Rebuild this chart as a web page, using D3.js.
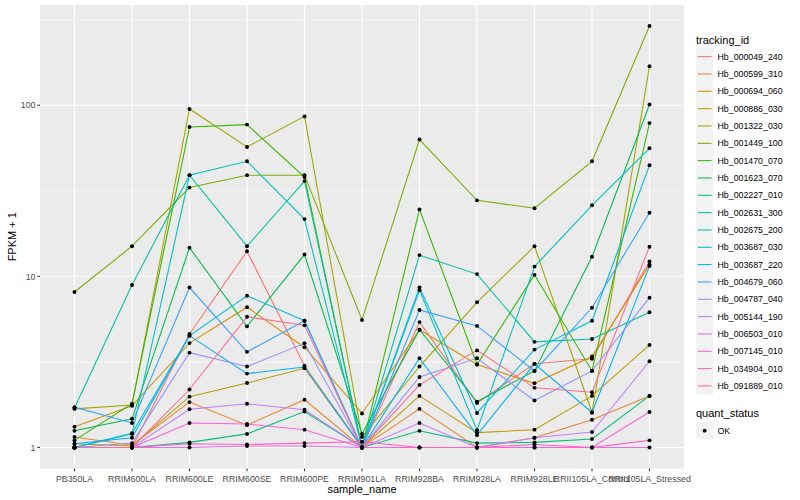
<!DOCTYPE html>
<html><head><meta charset="utf-8">
<script src="https://cdn.jsdelivr.net/npm/d3@7"></script>
<style>body{margin:0;background:#fff}svg{display:block}text{font-family:"Liberation Sans",Arial,Helvetica,sans-serif}</style>
</head><body><svg id="c" width="800" height="500"></svg>
<script>
const samples = ["PB350LA","RRIM600LA","RRIM600LE","RRIM600SE","RRIM600PE","RRIM901LA","RRIM928BA","RRIM928LA","RRIM928LE","RRII105LA_Control","RRII105LA_Stressed"];
const trackingIds = ["Hb_000049_240","Hb_000599_310","Hb_000694_060","Hb_000886_030","Hb_001322_030","Hb_001449_100","Hb_001470_070","Hb_001623_070","Hb_002227_010","Hb_002631_300","Hb_002675_200","Hb_003687_030","Hb_003687_220","Hb_004679_060","Hb_004787_040","Hb_005144_190","Hb_006503_010","Hb_007145_010","Hb_034904_010","Hb_091889_010"];
const seriesColors = ["#F8766D","#EA8331","#D89000","#C09B00","#A3A500","#7CAE00","#39B600","#00BB4E","#00BF7D","#00C1A3","#00BFC4","#00BAE0","#00B0F6","#35A2FF","#9590FF","#C77CFF","#E76BF3","#FA62DB","#FF62BC","#FF6C91"];
const yTicks = [1, 10, 100];
const yMinor = [Math.sqrt(10), Math.sqrt(1000), Math.sqrt(100000)];
// FPKM + 1 per sample
const hb_000049_240 = [1.0, 1.0, 4.6, 14, 3.0, 1.0, 5.4, 1.82, 3.08, 3.3, 12.2];
const hb_000599_310 = [1.15, 1.03, 1.84, 1.35, 1.9, 1.0, 1.68, 1.0, 1.14, 1.45, 2.0];
const hb_000694_060 = [1.32, 1.75, 4.07, 6.6, 3.85, 1.58, 4.87, 3.05, 2.37, 3.4, 11.7];
const hb_000886_030 = [1.05, 1.02, 1.98, 2.38, 2.9, 1.0, 2.0, 1.22, 1.27, 2.0, 3.97];
const hb_001322_030 = [1.68, 1.77, 95, 57, 86, 1.15, 2.97, 7.05, 15, 1.6, 169];
const hb_001449_100 = [8.1, 15, 33, 39, 39, 5.56, 63, 27.8, 25, 47, 290];
const hb_001470_070 = [1.1, 1.8, 74.5, 77, 38, 1.0, 24.6, 3.05, 10.2, 2.8, 78.6];
const hb_001623_070 = [1.25, 1.47, 14.7, 5.1, 13.4, 1.2, 4.87, 1.85, 2.8, 13.0, 101];
const hb_002227_010 = [1.0, 1.0, 1.07, 1.2, 1.62, 1.0, 1.25, 1.06, 1.07, 1.12, 2.0];
const hb_002631_300 = [1.7, 8.9, 39, 15, 36, 1.0, 13.3, 10.3, 4.14, 4.3, 6.17];
const hb_002675_200 = [1.0, 1.2, 39, 47, 21.6, 1.0, 8.3, 1.26, 11.4, 26, 56];
const hb_003687_030 = [1.0, 1.21, 4.5, 7.7, 5.5, 1.0, 8.6, 1.59, 3.73, 5.5, 44.6];
const hb_003687_220 = [1.05, 1.14, 4.5, 2.7, 2.95, 1.0, 3.32, 1.18, 3.08, 1.6, 11.5];
const hb_004679_060 = [1.72, 1.39, 8.6, 3.62, 5.5, 1.0, 6.36, 5.13, 2.8, 6.55, 23.5];
const hb_004787_040 = [1.0, 1.06, 3.58, 2.97, 4.06, 1.0, 2.58, 3.32, 1.88, 2.8, 7.5];
const hb_005144_190 = [1.0, 1.0, 1.67, 1.8, 1.66, 1.0, 1.39, 1.0, 1.14, 1.23, 3.19];
const hb_006503_010 = [1.0, 1.0, 1.0, 1.02, 1.02, 1.0, 1.0, 1.0, 1.0, 1.0, 1.0];
const hb_007145_010 = [1.0, 1.0, 1.39, 1.37, 1.27, 1.0, 1.0, 1.0, 1.0, 1.0, 1.61];
const hb_034904_010 = [1.0, 1.0, 1.05, 1.04, 1.06, 1.08, 1.0, 1.0, 1.04, 1.0, 1.1];
const hb_091889_010 = [1.0, 1.0, 2.18, 5.8, 5.17, 1.0, 2.32, 3.69, 2.23, 2.1, 14.9];
const seriesValues = [hb_000049_240,hb_000599_310,hb_000694_060,hb_000886_030,hb_001322_030,hb_001449_100,hb_001470_070,hb_001623_070,hb_002227_010,hb_002631_300,hb_002675_200,hb_003687_030,hb_003687_220,hb_004679_060,hb_004787_040,hb_005144_190,hb_006503_010,hb_007145_010,hb_034904_010,hb_091889_010];

const series = trackingIds.map((id,i)=>({id, color:seriesColors[i], pts:samples.map((s,j)=>({s, v:seriesValues[i][j]}))}));

const svg = d3.select("#c");
const P = {l:40, r:684, t:5, b:468.5};
const x = d3.scalePoint().domain(samples).range([P.l,P.r]).padding(0.6);
const allV = seriesValues.flat();
const lo = Math.log10(d3.min(allV)), hi = Math.log10(d3.max(allV));
const ex = (hi-lo)*0.05;
const y = d3.scaleLog().domain([Math.pow(10,lo-ex), Math.pow(10,hi+ex)]).range([P.b,P.t]);

svg.append("rect").attr("x",P.l).attr("y",P.t).attr("width",P.r-P.l).attr("height",P.b-P.t).attr("fill","#EBEBEB");
const g = svg.append("g");
g.selectAll(".mn").data(yMinor).join("line").attr("x1",P.l).attr("x2",P.r).attr("y1",d=>y(d)).attr("y2",d=>y(d)).attr("stroke","#fff").attr("stroke-width",0.55);
g.selectAll(".mj").data(yTicks).join("line").attr("x1",P.l).attr("x2",P.r).attr("y1",d=>y(d)).attr("y2",d=>y(d)).attr("stroke","#fff").attr("stroke-width",1.1);
g.selectAll(".mx").data(samples).join("line").attr("y1",P.t).attr("y2",P.b).attr("x1",d=>x(d)).attr("x2",d=>x(d)).attr("stroke","#fff").attr("stroke-width",1.1);

const line = d3.line().x(d=>x(d.s)).y(d=>y(d.v));
svg.append("g").selectAll("path").data(series).join("path").attr("d",d=>line(d.pts)).attr("fill","none").attr("stroke",d=>d.color).attr("stroke-width",1.07);
svg.append("g").selectAll("circle").data(series.flatMap(d=>d.pts)).join("circle")
  .attr("cx",d=>x(d.s)).attr("cy",d=>y(d.v)).attr("r",1.95).attr("fill","#000");

// axes
const ya = svg.append("g");
ya.selectAll("line").data(yTicks).join("line").attr("x1",P.l-2.7).attr("x2",P.l).attr("y1",d=>y(d)).attr("y2",d=>y(d)).attr("stroke","#333").attr("stroke-width",1.07);
ya.selectAll("text").data(yTicks).join("text").attr("x",P.l-4.5).attr("y",d=>y(d)+3.2).attr("text-anchor","end").attr("font-size",8.8).attr("fill","#4D4D4D").text(d=>d3.format("d")(d));
const xa = svg.append("g");
xa.selectAll("line").data(samples).join("line").attr("y1",P.b).attr("y2",P.b+2.7).attr("x1",d=>x(d)).attr("x2",d=>x(d)).attr("stroke","#333").attr("stroke-width",1.07);
xa.selectAll("text").data(samples).join("text").attr("x",d=>x(d)).attr("y",P.b+13.5).attr("text-anchor","middle").attr("font-size",8.8).attr("fill","#4D4D4D").text(d=>d);
svg.append("text").attr("x",(P.l+P.r)/2).attr("y",493).attr("text-anchor","middle").attr("font-size",11).attr("fill","#000").text("sample_name");
svg.append("text").attr("transform",`translate(16,${(P.t+P.b)/2}) rotate(-90)`).attr("text-anchor","middle").attr("font-size",11).attr("fill","#000").text("FPKM + 1");

// legend
const L = svg.append("g");
L.append("text").attr("x",696).attr("y",44).attr("font-size",11).attr("fill","#000").text("tracking_id");
const key0 = 48, ks = 17.33;
const items = L.selectAll("g.k").data(series).join("g").attr("transform",(d,i)=>`translate(696,${key0+i*ks})`);
items.append("rect").attr("width",17.3).attr("height",17.3).attr("fill","#F2F2F2");
items.append("line").attr("x1",1.7).attr("x2",15.6).attr("y1",8.65).attr("y2",8.65).attr("stroke",d=>d.color).attr("stroke-width",1.07);
items.append("text").attr("x",21.5).attr("y",11.8).attr("font-size",8.8).attr("fill","#000").text(d=>d.id);
L.append("text").attr("x",696).attr("y",417).attr("font-size",11).attr("fill","#000").text("quant_status");
const ok = L.append("g").attr("transform","translate(696,422)");
ok.append("rect").attr("width",17.3).attr("height",17.3).attr("fill","#F2F2F2");
ok.append("circle").attr("cx",8.65).attr("cy",8.65).attr("r",1.95).attr("fill","#000");
ok.append("text").attr("x",21.5).attr("y",11.8).attr("font-size",8.8).attr("fill","#000").text("OK");
</script></body></html>
